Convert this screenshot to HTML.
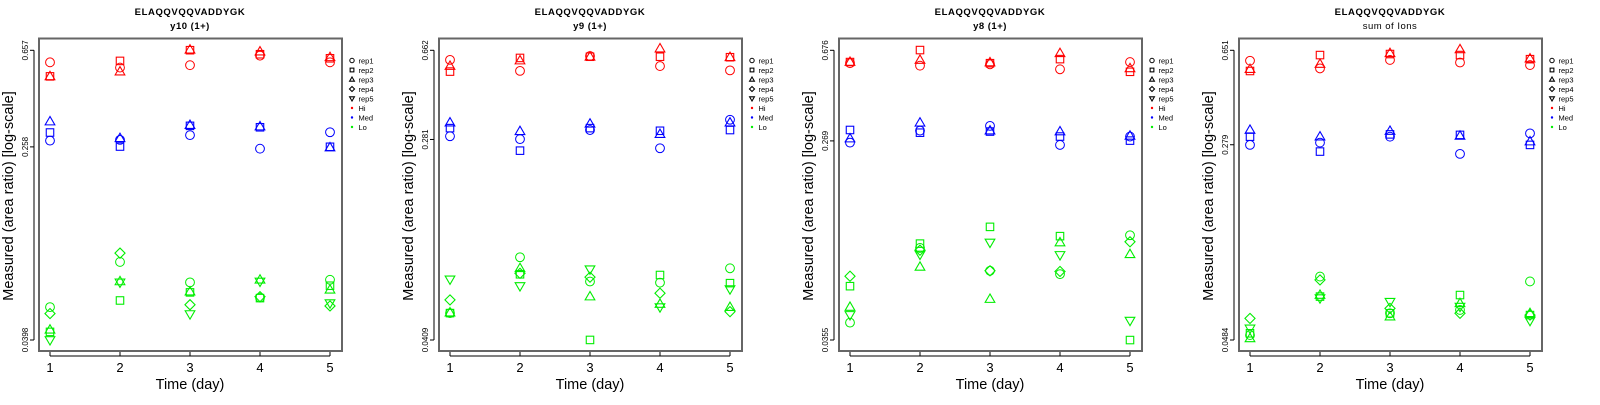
<!DOCTYPE html>
<html><head><meta charset="utf-8"><style>
body{margin:0;background:#fff;width:1600px;height:400px;overflow:hidden}
svg{font-family:"Liberation Sans",sans-serif}
</style></head><body>
<svg id="chart" width="1600" height="400" xmlns="http://www.w3.org/2000/svg"></svg>
<script>
// values are log10(area ratio), per panel: [group][day][rep]; null = no measurement
const panelTitles = ["y10 (1+)", "y9 (1+)", "y8 (1+)", "sum of Ions"];
const peptide = "ELAQQVQQVADDYGK";
const days = [1,2,3,4,5];
const reps = ["rep1","rep2","rep3","rep4","rep5"];
const groups = ["Hi","Med","Lo"];
const tickTop = [0.657, 0.662, 0.676, 0.651];
const tickMid = [0.258, 0.281, 0.269, 0.279];
const tickBot = [0.0398, 0.0409, 0.0355, 0.0484];
const p1Hi = [[-0.233,-0.292,-0.292,null,null],[-0.255,-0.227,-0.272,null,null],[-0.245,-0.182,-0.180,null,null],[-0.205,-0.199,-0.188,null,null],[-0.233,-0.216,-0.212,null,null]];
const p1Med = [[-0.562,-0.528,-0.482,null,null],[-0.559,-0.587,-0.552,null,null],[-0.539,-0.500,-0.497,null,null],[-0.596,-0.506,-0.503,null,null],[-0.527,-0.588,-0.591,null,null]];
const p1Lo = [[-1.262,-1.366,-1.357,-1.289,-1.400],[-1.072,-1.234,-1.154,-1.035,-1.158],[-1.158,-1.200,-1.197,-1.252,-1.291],[-1.222,-1.224,-1.147,-1.218,-1.154],[-1.147,-1.172,-1.189,-1.257,-1.245]];
const p2Hi = [[-0.219,-0.268,-0.245,null,null],[-0.265,-0.211,-0.222,null,null],[-0.203,-0.206,-0.206,null,null],[-0.245,-0.206,-0.172,null,null],[-0.263,-0.208,-0.208,null,null]];
const p2Med = [[-0.538,-0.504,-0.481,null,null],[-0.550,-0.598,-0.517,null,null],[-0.512,-0.504,-0.486,null,null],[-0.588,-0.515,-0.529,null,null],[-0.469,-0.512,-0.481,null,null]];
const p2Lo = [[-1.276,-1.276,-1.274,-1.221,-1.135],[-1.043,-1.114,-1.089,-1.110,-1.163],[-1.144,-1.388,-1.207,-1.126,-1.093],[-1.149,-1.117,-1.238,-1.193,-1.251],[-1.089,-1.151,-1.251,-1.270,-1.176]];
const p3Hi = [[-0.227,-0.222,-0.222,null,null],[-0.238,-0.169,-0.213,null,null],[-0.232,-0.227,-0.224,null,null],[-0.254,-0.209,-0.183,null,null],[-0.222,-0.265,-0.250,null,null]];
const p3Med = [[-0.578,-0.522,-0.560,null,null],[-0.525,-0.534,-0.490,null,null],[-0.504,-0.529,-0.525,null,null],[-0.588,-0.551,-0.529,null,null],[-0.551,-0.569,-0.548,null,null]];
const p3Lo = [[-1.373,-1.212,-1.304,-1.168,-1.339],[-1.043,-1.024,-1.127,-1.053,-1.072],[-1.144,-0.950,-1.269,-1.144,-1.019],[-1.159,-0.991,-1.019,-1.147,-1.074],[-0.987,-1.450,-1.071,-1.016,-1.364]];
const p4Hi = [[-0.227,-0.267,-0.260,null,null],[-0.257,-0.205,-0.240,null,null],[-0.224,-0.201,-0.198,null,null],[-0.234,-0.205,-0.183,null,null],[-0.244,-0.221,-0.219,null,null]];
const p4Med = [[-0.555,-0.523,-0.497,null,null],[-0.546,-0.581,-0.523,null,null],[-0.523,-0.514,-0.501,null,null],[-0.590,-0.516,-0.520,null,null],[-0.510,-0.555,-0.542,null,null]];
const p4Lo = [[-1.296,-1.289,-1.309,-1.231,-1.270],[-1.068,-1.146,-1.140,-1.081,-1.152],[-1.211,-1.211,-1.224,-1.192,-1.166],[-1.198,-1.140,-1.172,-1.211,-1.185],[-1.087,-1.218,-1.211,-1.218,-1.240]];
const panelData = [[p1Hi,p1Med,p1Lo],[p2Hi,p2Med,p2Lo],[p3Hi,p3Med,p3Lo],[p4Hi,p4Med,p4Lo]];
const groupColors = ["#ff0000","#0000ff","#00ee00"];

const NS = "http://www.w3.org/2000/svg";
const svg = document.getElementById("chart");
function mk(tag, attrs, parent, text){
  const e = document.createElementNS(NS, tag);
  for (const k in attrs) e.setAttribute(k, attrs[k]);
  if (text !== undefined) e.textContent = text;
  (parent || svg).appendChild(e);
  return e;
}
function marker(g, shape, x, y, color, r){
  let e;
  if (shape === 0) e = mk("circle", {cx:x, cy:y, r:r}, g);
  else if (shape === 1) e = mk("rect", {x:x-r*0.85, y:y-r*0.85, width:r*1.7, height:r*1.7}, g);
  else if (shape === 2) e = mk("polygon", {points:`${x},${y-r*1.15} ${x-r*1.1},${y+r*0.75} ${x+r*1.1},${y+r*0.75}`}, g);
  else if (shape === 3) e = mk("polygon", {points:`${x},${y-r*1.15} ${x+r*1.15},${y} ${x},${y+r*1.15} ${x-r*1.15},${y}`}, g);
  else e = mk("polygon", {points:`${x},${y+r*1.15} ${x-r*1.1},${y-r*0.75} ${x+r*1.1},${y-r*0.75}`}, g);
  e.setAttribute("fill", "none");
  e.setAttribute("stroke", color);
  e.setAttribute("stroke-width", shape === 0 ? 1 : 1.1);
  return e;
}

for (let p = 0; p < 4; p++) {
  const ox = p * 400;
  const g = mk("g", {transform:`translate(${ox},0)`});
  
  
  const lt = Math.log10(tickTop[p]), lb = Math.log10(tickBot[p]);
  const yS = v => 50.3 + (lt - v) / (lt - lb) * 289.7;
  const xS = d => 50 + (d - 1) * 70;

  const t1 = mk("text", {x:190, y:15, "text-anchor":"middle", "font-size":"9.5", "font-weight":"bold", "letter-spacing":"0.6"}, g, peptide);
  
  
  const t2 = mk("text", {x:190, y:29, "text-anchor":"middle", "font-size":"9.5", "font-weight": p===3 ? "normal" : "bold", "letter-spacing":"0.5"}, g, panelTitles[p]);
  
  

  const xa = mk("g", {}, g);
  
  
  mk("line", {x1:xS(1), x2:xS(5), y1:356, y2:356, stroke:"#000"}, xa);
  days.forEach(d => {
    mk("line", {x1:xS(d), x2:xS(d), y1:351, y2:356, stroke:"#000"}, xa);
    const tl = mk("text", {x:xS(d), y:372, "text-anchor":"middle", "font-size":"13"}, xa, String(d));
    
    
  });
  const xt = mk("text", {x:190, y:389, "text-anchor":"middle", "font-size":"14.5"}, g, "Time (day)");
  
  

  const ya = mk("g", {}, g);
  
  
  mk("line", {x1:34, x2:34, y1:yS(lt), y2:yS(lb), stroke:"#000"}, ya);
  [tickTop[p], tickMid[p], tickBot[p]].forEach(v => {
    const y = yS(Math.log10(v));
    mk("line", {x1:30, x2:34, y1:y, y2:y, stroke:"#000"}, ya);
    const tl = mk("text", {x:0, y:0, "text-anchor":"middle", "font-size":"8", transform:`translate(28,${y}) rotate(-90)`}, ya, String(v));
    
    
  });
  const yt = mk("text", {x:0, y:0, "text-anchor":"middle", "font-size":"14.5", transform:"translate(13,196) rotate(-90)"}, g, "Measured (area ratio) [log-scale]");
  
  

  const box = mk("rect", {x:39, y:38.5, width:303, height:312.5, fill:"none", stroke:"#666", "stroke-width":"2"}, g);
  
  

  const pts = mk("g", {}, g);
  
  
  groups.forEach((gr, gi) => {
    days.forEach((d, di) => {
      reps.forEach((rp, ri) => {
        const v = panelData[p][gi][di][ri];
        if (v === null) return;
        const m = marker(pts, ri, xS(d), yS(v), groupColors[gi], 4.4);
        
        
      });
    });
  });

  const lg = mk("g", {}, g);
  
  
  reps.forEach((rp, i) => {
    const y = 60.5 + i * 9.5;
    marker(lg, i, 352, y, "#000", 2.2);
    const tx = mk("text", {x:358.5, y:y+3, "font-size":"7.5"}, lg, rp);
    
    
  });
  groups.forEach((gr, i) => {
    const y = 108 + i * 9.5;
    mk("circle", {cx:352, cy:y, r:1.2, fill:groupColors[i]}, lg);
    const tx = mk("text", {x:358.5, y:y+3, "font-size":"7.5"}, lg, gr);
    
    
  });
}
</script>
</body></html>
